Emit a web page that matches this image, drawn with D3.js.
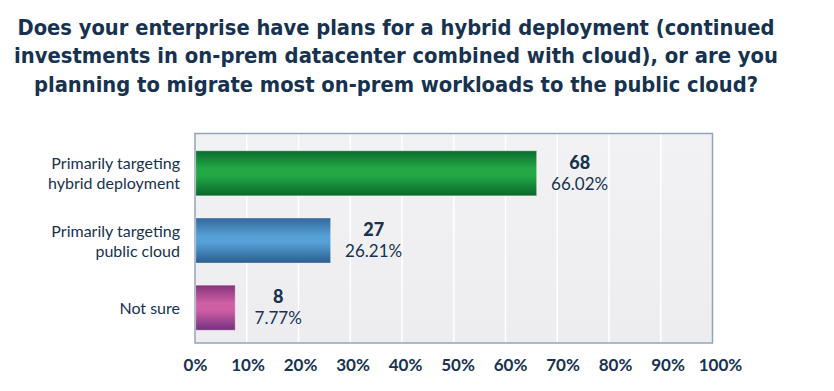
<!DOCTYPE html>
<html>
<head>
<meta charset="utf-8">
<script src="https://cdn.jsdelivr.net/npm/d3@7"></script>
<style>
  html, body { margin: 0; padding: 0; background: #ffffff; }
  svg { display: block; }
</style>
</head>
<body>
<svg id="chart" width="834" height="391"></svg>
<script>
// ---- Data ----
const titleLines = [
  "Does your enterprise have plans for a hybrid deployment (continued",
  "investments in on-prem datacenter combined with cloud), or are you",
  "planning to migrate most on-prem workloads to the public cloud?"
];
const categories = [
  "Primarily targeting\nhybrid deployment",
  "Primarily targeting\npublic cloud",
  "Not sure"
];
const counts = [68, 27, 8];
const percents = [66.02, 26.21, 7.77];
const tickValues = [0, 10, 20, 30, 40, 50, 60, 70, 80, 90, 100];
const tickLabels = ["0%", "10%", "20%", "30%", "40%", "50%", "60%", "70%", "80%", "90%", "100%"];
const barColors = [
  ["#0b6c2e", "#22a946", "#0a672b"],
  ["#33689c", "#55a0d6", "#2c5e8f"],
  ["#86327c", "#cf5fa4", "#74307f"]
];

// ---- Layout ----
const svg = d3.select("#chart");
const plot = { left: 195, right: 712.5, top: 133.5, bottom: 343 };
const navy = "#17324f";

const x = d3.scaleLinear().domain([0, 100]).range([plot.left, plot.right]);
const xLabel = d3.scaleLinear().domain([0, 100]).range([195, 720]);
const y = d3.scaleBand().domain(categories).range([136, 345]).paddingInner(0.33).paddingOuter(0.22);

const defs = svg.append("defs");
barColors.forEach((c, i) => {
  const g = defs.append("linearGradient").attr("id", "bg" + i)
    .attr("x1", 0).attr("y1", 0).attr("x2", 0).attr("y2", 1);
  g.append("stop").attr("offset", "0%").attr("stop-color", c[0]);
  g.append("stop").attr("offset", "40%").attr("stop-color", c[1]);
  g.append("stop").attr("offset", "55%").attr("stop-color", c[1]);
  g.append("stop").attr("offset", "100%").attr("stop-color", c[2]);
});
const pg = defs.append("linearGradient").attr("id", "plotbg")
  .attr("x1", 0).attr("y1", 0).attr("x2", 0).attr("y2", 1);
pg.append("stop").attr("offset", "0%").attr("stop-color", "#f2f2f5");
pg.append("stop").attr("offset", "100%").attr("stop-color", "#ededf0");

// ---- Title ----
const titleWidths = [757, 764, 724];
const titleCenter = 396;
svg.append("g").selectAll("text").data(titleLines).join("text")
  .attr("x", titleCenter)
  .attr("y", (d, i) => 35 + i * 28.3)
  .attr("text-anchor", "middle")
  .attr("textLength", (d, i) => titleWidths[i])
  .attr("lengthAdjust", "spacingAndGlyphs")
  .style("font-family", "'DejaVu Sans Condensed', 'DejaVu Sans', sans-serif")
  .style("font-stretch", "condensed")
  .style("font-weight", "bold")
  .style("font-size", "21px")
  .style("fill", navy)
  .text(d => d);

// ---- Plot area ----
svg.append("rect")
  .attr("x", plot.left).attr("y", plot.top)
  .attr("width", plot.right - plot.left).attr("height", plot.bottom - plot.top)
  .attr("fill", "url(#plotbg)");

svg.append("g").selectAll("line").data(tickValues.filter(v => v > 0 && v < 100)).join("line")
  .attr("x1", d => x(d)).attr("x2", d => x(d))
  .attr("y1", plot.top).attr("y2", plot.bottom)
  .attr("stroke", "#ffffff").attr("stroke-width", 1.5);

svg.append("rect")
  .attr("x", plot.left).attr("y", plot.top)
  .attr("width", plot.right - plot.left).attr("height", plot.bottom - plot.top)
  .attr("fill", "none").attr("stroke", "#93a4ba").attr("stroke-width", 1.5);

// ---- Bars ----
svg.append("g").selectAll("rect").data(categories).join("rect")
  .attr("x", x(0) + 0.75)
  .attr("y", d => y(d))
  .attr("width", (d, i) => x(percents[i]) - x(0) - 0.75)
  .attr("height", y.bandwidth())
  .attr("fill", (d, i) => `url(#bg${i})`)
  .attr("stroke", "rgba(255,255,255,0.35)")
  .attr("stroke-width", 1);

// ---- Value labels ----
const vl = svg.append("g").selectAll("g").data(categories).join("g")
  .attr("transform", (d, i) => `translate(${x(percents[i]) + 43},${y(d) + y.bandwidth() / 2})`)
  .style("font-family", "Lato, 'Open Sans', sans-serif")
  .style("fill", navy);
vl.append("text")
  .attr("text-anchor", "middle").attr("y", -4.5)
  .style("font-weight", "900").style("font-size", "18px")
  .text((d, i) => counts[i]);
vl.append("text")
  .attr("text-anchor", "middle").attr("y", 16.5)
  .style("font-weight", "normal").style("font-size", "17px")
  .text((d, i) => percents[i].toFixed(2) + "%");

// ---- Category labels ----
const cl = svg.append("g").selectAll("text").data(categories).join("text")
  .attr("text-anchor", "end")
  .attr("transform", d => `translate(180,${y(d) + y.bandwidth() / 2})`)
  .style("font-family", "Lato, 'Open Sans', sans-serif")
  .style("font-size", "16px")
  .style("fill", navy);
cl.each(function (d) {
  const lines = d.split("\n");
  const t = d3.select(this);
  const lh = 20;
  const start = -((lines.length - 1) * lh) / 2 + 6;
  lines.forEach((ln, j) => {
    t.append("tspan").attr("x", 0).attr("y", start + j * lh).text(ln);
  });
});

// ---- X axis labels ----
const axis = d3.axisBottom(xLabel)
  .tickValues(tickValues)
  .tickFormat((d, i) => tickLabels[i])
  .tickSize(0).tickPadding(0);
const ax = svg.append("g").attr("transform", "translate(0,359)").call(axis);
ax.select(".domain").remove();
ax.selectAll("text")
  .attr("dy", "0.71em")
  .style("font-family", "Lato, 'Open Sans', sans-serif")
  .style("font-weight", "bold")
  .style("font-size", "17px")
  .style("fill", navy);
</script>
</body>
</html>
